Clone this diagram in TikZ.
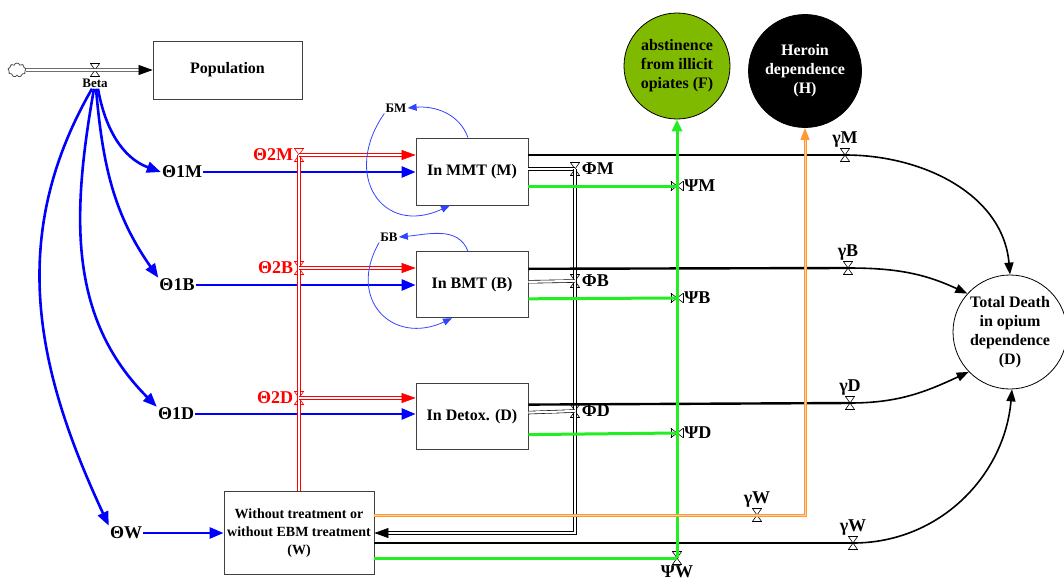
\documentclass[tikz,border=0pt]{standalone}
\usepackage{fontspec}
\setmainfont{Liberation Serif}
\usepackage{tikz}
\usetikzlibrary{arrows.meta,positioning,shapes.symbols}
\definecolor{flowblue}{HTML}{0000FF}
\definecolor{loopblue}{HTML}{3344FF}
\definecolor{flowred}{HTML}{FF0000}
\definecolor{flowgreen}{HTML}{22EE22}
\definecolor{floworange}{HTML}{FF9933}
\definecolor{abstfill}{HTML}{7FBA00}
\definecolor{boxline}{HTML}{404040}
\tikzset{
  stockbox/.style={rectangle,draw=boxline,line width=0.8pt,align=center,
    font=\bfseries\fontsize{16}{19}\selectfont,inner sep=2pt},
  wstock/.style={stockbox,font=\bfseries\fontsize{14}{18}\selectfont},
  sinkcirc/.style={circle,draw=black,line width=0.8pt,align=center,
    font=\bfseries\fontsize{16}{19}\selectfont,inner sep=0pt},
  varlab/.style={font=\bfseries\fontsize{18}{20}\selectfont,inner sep=1pt},
  smlab/.style={font=\bfseries\fontsize{13}{15}\selectfont,inner sep=1pt},
  valve/.style={inner sep=0pt,minimum width=9pt,minimum height=13pt,
    append after command={
      (\tikzlastnode.north west) edge[draw=#1,line width=0.6pt] (\tikzlastnode.north east)
      (\tikzlastnode.north east) edge[draw=#1,line width=0.6pt] (\tikzlastnode.south west)
      (\tikzlastnode.south west) edge[draw=#1,line width=0.6pt] (\tikzlastnode.south east)
      (\tikzlastnode.south east) edge[draw=#1,line width=0.6pt] (\tikzlastnode.north west)}},
  valve/.default=black,
  valveh/.style={inner sep=0pt,minimum width=12pt,minimum height=9pt,
    append after command={
      (\tikzlastnode.north west) edge[line width=0.6pt] (\tikzlastnode.south west)
      (\tikzlastnode.south west) edge[line width=0.6pt] (\tikzlastnode.north east)
      (\tikzlastnode.north east) edge[line width=0.6pt] (\tikzlastnode.south east)
      (\tikzlastnode.south east) edge[line width=0.6pt] (\tikzlastnode.north west)}},
  pipe/.style={draw=black,double=white,double distance=2.2pt,line width=0.6pt},
  redpipe/.style={pipe,draw=flowred},
  orangepipe/.style={draw=floworange,double=floworange!45,double distance=0.8pt,line width=1.1pt},
  bluearr/.style={draw=flowblue,line width=2.6pt,-{Triangle[length=14pt,width=11pt]}},
  looparr/.style={draw=loopblue,line width=0.8pt,-{Triangle[length=9pt,width=7pt]}},
  flowline/.style={draw=black,line width=2.4pt},
  greenline/.style={draw=flowgreen,line width=3pt},
  deatharr/.style={draw=black,line width=1.6pt,-{Triangle[length=12pt,width=9pt]}},
  pipetip/.style={-{Triangle[length=14pt,width=10pt]}},
}
\begin{document}
\begin{tikzpicture}[x=1pt,y=1pt]
  \useasboundingbox (0,0) rectangle (1064,-586);
  \node[stockbox,minimum width=149pt,minimum height=58pt] (pop) at (227.5,-70) {Population};
  \node[stockbox,minimum width=112pt,minimum height=67pt] (mmt) at (472,-171.5) {In MMT (M)};
  \node[stockbox,minimum width=112pt,minimum height=66pt,below=46pt of mmt] (bmt) {In BMT (B)};
  \node[stockbox,minimum width=112pt,minimum height=66pt,below=65pt of bmt] (detox) {In Detox. (D)};
  \node[wstock,minimum width=150pt,minimum height=83pt] (wout) at (299,-533)
    {Without treatment or\\without EBM treatment\\(W)};
  \node[sinkcirc,fill=abstfill,minimum size=106pt] (abst) at (677,-66) {abstinence\\from illicit\\opiates (F)};
  \node[sinkcirc,fill=black,text=white,minimum size=113pt] (heroin) at (805,-71) {Heroin\\dependence\\(H)};
  \node[sinkcirc,fill=white,minimum size=114pt] (death) at (1010,-332) {Total Death\\in opium\\dependence\\(D)};
  \node[cloud,cloud puffs=9,draw=black!70,line width=0.8pt,minimum width=18pt,minimum height=14pt,inner sep=0pt] (src) at (17,-70) {};

  \node[valve] (vbeta) at (95,-70) {};
  \node[smlab,below=1pt of vbeta] (beta) {Beta};
  \node[varlab] (t1m) at (182,-172) {Θ1M};
  \node[varlab] (t1b) at (177,-285) {Θ1B};
  \node[varlab] (t1d) at (176,-414) {Θ1D};
  \node[varlab] (tw) at (126,-533) {ΘW};
  \node[valve=flowred] (v2m) at (299,-155) {};
  \node[valve=flowred] (v2b) at (299,-268) {};
  \node[valve=flowred] (v2d) at (299,-398) {};
  \node[varlab,text=flowred,left=0pt of v2m] (t2m) {Θ2M};
  \node[varlab,text=flowred,left=0pt of v2b] (t2b) {Θ2B};
  \node[varlab,text=flowred,left=0pt of v2d] (t2d) {Θ2D};
  \node[smlab] (bm) at (396,-108) {БМ};
  \node[smlab] (bb) at (389,-237) {БВ};
  \node[valve] (vphim) at (575,-169) {};
  \node[valve] (vphib) at (575,-281) {};
  \node[valve] (vphid) at (575,-411) {};
  \node[varlab,right=1pt of vphim] (phim) {ΦM};
  \node[varlab,right=1pt of vphib] (phib) {ΦB};
  \node[varlab,right=1pt of vphid] (phid) {ΦD};
  \node[valveh] (vpsim) at (677,-186) {};
  \node[valveh] (vpsib) at (677,-298) {};
  \node[valveh] (vpsid) at (677,-433) {};
  \node[valve] (vpsiw) at (677,-558) {};
  \node[varlab,right=0pt of vpsim] (psim) {ΨM};
  \node[varlab,right=0pt of vpsib] (psib) {ΨB};
  \node[varlab,right=0pt of vpsid] (psid) {ΨD};
  \node[varlab,below=0pt of vpsiw] (psiw) {ΨW};
  \node[valve] (vgm) at (845,-155) {};
  \node[valve] (vgb) at (848,-268) {};
  \node[valve] (vgd) at (850,-403) {};
  \node[valve] (vgw) at (853,-543) {};
  \node[valve] (vyw) at (757,-515) {};
  \node[varlab,above=0pt of vgm] (gm) {γM};
  \node[varlab,above=0pt of vgb] (gb) {γB};
  \node[varlab,above=0pt of vgd] (gd) {γD};
  \node[varlab,above=0pt of vgw] (gw) {γW};
  \node[varlab,above=0pt of vyw] (yw) {γW};

  \draw[pipe,pipetip] (src.east) -- (pop.west);
  \draw[bluearr] ([xshift=3pt]beta.south) to[out=-80,in=160] (t1m.west);
  \draw[bluearr] ([xshift=1pt]beta.south) to[out=-85,in=125] (t1b.north west);
  \draw[bluearr] ([xshift=-1pt]beta.south) to[out=-100,in=135] (t1d.north west);
  \draw[bluearr] ([xshift=-3pt]beta.south) to[out=-120,in=115] (tw.north west);
  \draw[bluearr] (t1m.east) -- (t1m.east -| mmt.west);
  \draw[bluearr] (t1b.east) -- (t1b.east -| bmt.west);
  \draw[bluearr] (t1d.east) -- (t1d.east -| detox.west);
  \draw[bluearr] (tw.east) -- (tw.east -| wout.west);
  \draw[redpipe] (wout.north) -- (v2m.center);
  \draw[redpipe,pipetip] (v2m.center) -- (v2m -| mmt.west);
  \draw[redpipe,pipetip] (v2b.center) -- (v2b -| bmt.west);
  \draw[redpipe,pipetip] (v2d.center) -- (v2d -| detox.west);
  \draw[looparr] ([xshift=-4pt]mmt.north) to[out=110,in=5] (bm.east);
  \draw[looparr] (bm.south west) to[out=-125,in=-155,looseness=1.7] ([xshift=-22pt]mmt.south);
  \draw[looparr] ([xshift=-4pt]bmt.north) to[out=110,in=5] (bb.east);
  \draw[looparr] (bb.south west) to[out=-120,in=-155,looseness=1.6] ([xshift=-20pt]bmt.south);
  \draw[pipe] ([yshift=2.5pt]mmt.east) -- (vphim.center);
  \draw[pipe,pipetip] (vphim.center) |- (wout.east);
  \draw[pipe] ([yshift=3pt]bmt.east) -- (vphib.center);
  \draw[pipe] ([yshift=4pt]detox.east) -- (vphid.center);
  \draw[flowline] ([yshift=16.5pt]mmt.east) -- (vgm.center);
  \draw[flowline] ([yshift=16pt]bmt.east) -- (vgb.center);
  \draw[flowline] ([yshift=12pt]detox.east) -- (vgd.center);
  \draw[flowline] ([yshift=-10pt]wout.east) -- (vgw.center);
  \draw[greenline] ([yshift=-14.5pt]mmt.east) -- (vpsim.center);
  \draw[greenline] ([yshift=-14pt]bmt.east) -- (vpsib.center);
  \draw[greenline] ([yshift=-18pt]detox.east) -- (vpsid.center);
  \draw[greenline] ([yshift=-25pt]wout.east) -- (vpsiw.center);
  \draw[greenline,-{Triangle[length=12pt,width=10pt]}] (vpsiw.center) -- (abst.south);
  \draw[orangepipe] ([yshift=18pt]wout.east) -- (vyw.center);
  \draw[orangepipe,-{Triangle[length=12pt,width=9pt]}] (vyw.center) -| (heroin.south);
  \draw[deatharr] (vgm.center) to[out=0,in=95] (death.90);
  \draw[deatharr] (vgb.center) to[out=0,in=155] (death.138);
  \draw[deatharr] (vgd.center) to[out=0,in=205] (death.224);
  \draw[deatharr] (vgw.center) to[out=0,in=-95] (death.272);
\end{tikzpicture}
\end{document}
